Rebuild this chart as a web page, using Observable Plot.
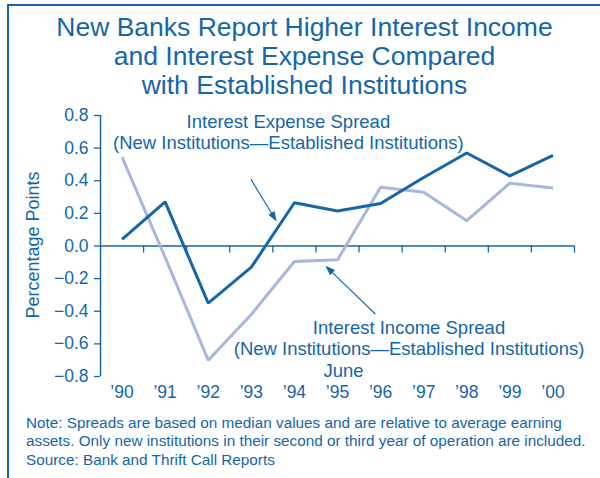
<!DOCTYPE html>
<html><head><meta charset="utf-8">
<script src="https://cdn.jsdelivr.net/npm/d3@7"></script>
<script src="https://cdn.jsdelivr.net/npm/@observablehq/plot@0.6"></script>
<style>
body{margin:0;background:#fff}
#wrap{position:relative;width:600px;height:478px;overflow:hidden;font-family:"Liberation Sans",Arial,sans-serif;color:#1565ab;background:#fff}
#frame{position:absolute;left:7px;top:4px;right:-4px;bottom:-4px;border-left:2px solid #1565ab;border-top:2px solid #1565ab}
#title{position:absolute;left:0;top:13px;width:609px;text-align:center;font-size:26.5px;line-height:29px;white-space:nowrap}
#chart{position:absolute;left:0;top:0}
#ylabel{position:absolute;left:-66.7px;top:235px;width:200px;height:20px;line-height:20px;font-size:18px;text-align:center;transform:rotate(-90deg);white-space:nowrap}
#note{position:absolute;left:26px;top:413.6px;font-size:15.3px;line-height:18.5px;white-space:nowrap}
</style></head><body>
<div id="wrap">
  <div id="frame"></div>
  <div id="chart"></div>
  <div id="title">New Banks Report Higher Interest Income<br>and Interest Expense Compared<br>with Established Institutions</div>
  <div id="ylabel">Percentage Points</div>
  <div id="note">Note: Spreads are based on median values and are relative to average earning<br>assets. Only new institutions in their second or third year of operation are included.<br>Source: Bank and Thrift Call Reports</div>
</div>
<script>
const years = [1990, 1991, 1992, 1993, 1994, 1995, 1996, 1997, 1998, 1999, 2000];
const expense = [0.04, 0.27, -0.35, -0.13, 0.265, 0.215, 0.26, 0.42, 0.57, 0.43, 0.555];
const income = [0.545, -0.07, -0.70, -0.42, -0.095, -0.085, 0.36, 0.33, 0.155, 0.385, 0.355];
const yTicks = [-0.8, -0.6, -0.4, -0.2, 0, 0.2, 0.4, 0.6, 0.8];
const bandEdges = [1990.5, 1991.5, 1992.5, 1993.5, 1994.5, 1995.5, 1996.5, 1997.5, 1998.5, 1999.5, 2000.5];

const C = "#1565ab", LIGHT = "#a8b7dc";
const expenseData = years.map((y, i) => ({year: y, value: expense[i]}));
const incomeData = years.map((y, i) => ({year: y, value: income[i]}));

const arrowSpecs = [
  {x1: 1993.0, y1: 0.407, x2: 1993.60, y2: 0.147},
  {x1: 1995.89, y1: -0.42, x2: 1994.73, y2: -0.124}
];

function arrows(index, scales) {
  const g = d3.create("svg:g").attr("stroke", C).attr("fill", C);
  for (const a of arrowSpecs) {
    const x1 = scales.x(a.x1), y1 = scales.y(a.y1), x2 = scales.x(a.x2), y2 = scales.y(a.y2);
    const ang = Math.atan2(y2 - y1, x2 - x1), c = Math.cos(ang), s = Math.sin(ang);
    const L = 10, W = 3.6;
    const bx = x2 - L * c, by = y2 - L * s;
    g.append("line").attr("x1", x1).attr("y1", y1).attr("x2", bx + 2 * c).attr("y2", by + 2 * s).attr("stroke-width", 1.1);
    g.append("path").attr("stroke", "none")
      .attr("d", `M${x2},${y2}L${bx - W * s},${by + W * c}L${bx + W * s},${by - W * c}Z`);
  }
  return g.node();
}

const chart = Plot.plot({
  width: 600, height: 478,
  marginLeft: 100, marginRight: 26, marginTop: 115, marginBottom: 102,
  x: {domain: [1989.5, 2000.5]},
  y: {domain: [-0.8, 0.8]},
  style: {fontFamily: "'Liberation Sans', Arial, sans-serif", color: C, background: "transparent", overflow: "visible"},
  marks: [
    Plot.ruleX([1989.5], {stroke: C, strokeWidth: 1.5}),
    Plot.ruleY([0], {stroke: C, strokeWidth: 1.5}),
    Plot.ruleX(bandEdges, {y1: 0, y2: 0, insetBottom: -7, stroke: C, strokeWidth: 1.3}),
    Plot.axisY({ticks: yTicks, tickSize: 6, tickPadding: 6, label: null, fontSize: 17.5, stroke: C, fill: C, strokeWidth: 1.3,
      tickFormat: d => (d < 0 ? "\u2212" : "") + Math.abs(d).toFixed(1)}),
    Plot.axisX({ticks: years, tickSize: 0, tickPadding: 9, label: null, fontSize: 17.5, fill: C,
      tickFormat: d => "\u2019" + String(d).slice(2)}),
    Plot.line(incomeData, {x: "year", y: "value", stroke: LIGHT, strokeWidth: 3, strokeLinejoin: "miter", strokeLinecap: "butt"}),
    Plot.line(expenseData, {x: "year", y: "value", stroke: C, strokeWidth: 3, strokeLinejoin: "miter", strokeLinecap: "butt"}),
    Plot.text(["Interest Expense Spread\n(New Institutions\u2014Established Institutions)"],
      {x: 1993.86, y: 0.597, text: d => d, textAnchor: "middle", lineAnchor: "bottom", lineHeight: 1.135, fontSize: 18.5, fill: C}),
    Plot.text(["Interest Income Spread\n(New Institutions\u2014Established Institutions)"],
      {x: 1996.66, y: -0.670, text: d => d, textAnchor: "middle", lineAnchor: "bottom", lineHeight: 1.135, fontSize: 18.5, fill: C}),
    Plot.text(["June"],
      {x: 1995.14, y: -0.803, text: d => d, textAnchor: "middle", lineAnchor: "bottom", fontSize: 18.5, fill: C}),
    arrows
  ]
});
document.getElementById("chart").appendChild(chart);
</script>
</body></html>
